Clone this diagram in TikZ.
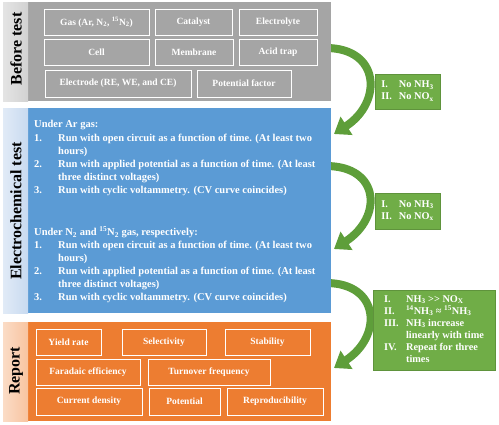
\documentclass[tikz,border=0pt]{standalone}
\usepackage{fontspec}
\setmainfont{Liberation Serif}
\usetikzlibrary{arrows.meta,calc,shadows}
\definecolor{pgray}{RGB}{165,165,165}
\definecolor{pgraylt}{RGB}{210,210,210}
\definecolor{pblue}{RGB}{91,155,213}
\definecolor{pbluelt}{RGB}{200,218,240}
\definecolor{porange}{RGB}{237,125,49}
\definecolor{porangelt}{RGB}{248,196,160}
\definecolor{bgreen}{RGB}{112,173,71}
\definecolor{agreen}{RGB}{94,158,58}
\begin{document}
\begin{tikzpicture}[x=1pt,y=-1pt,
  every node/.style={font=\bfseries\fontsize{9.5}{11}\selectfont},
  cell/.style={draw=white, line width=1pt, text=white, inner sep=0pt},
  sidelabel/.style={rotate=90, text=black, inner sep=0pt, font=\bfseries\fontsize{16}{18}\selectfont},
  bodytext/.style={anchor=west, text=white, inner sep=0pt, text height=7.2pt, text depth=2.2pt,
    font=\bfseries\fontsize{10.5}{12}\selectfont},
  resultbox/.style={fill=bgreen, draw=bgreen!85!black, line width=0.6pt, text=white, inner sep=0pt,
    font=\bfseries\fontsize{10.3}{12}\selectfont,
    drop shadow={opacity=0.3, shadow xshift=1.2pt, shadow yshift=-1.2pt}},
  bigarrow/.style={draw=agreen, line width=8pt, -{Triangle[width=21pt,length=15pt]}}]
\useasboundingbox (0,0) rectangle (499,424);
\fill[white] (0,0) rectangle (499,424);

% connectors (drawn first, panels cover their start)
\coordinate (a1s) at (326,48);  \coordinate (a1e) at (334,134);
\coordinate (a2s) at (326,166); \coordinate (a2e) at (334,249);
\coordinate (a3s) at (326,283); \coordinate (a3e) at (334,368);
\draw[bigarrow] (a1s) .. controls ($(a1s)+(54,0)$) and ($(a1e)+(49,-32)$) .. (a1e);
\draw[bigarrow] (a2s) .. controls ($(a2s)+(54,0)$) and ($(a2e)+(49,-32)$) .. (a2e);
\draw[bigarrow] (a3s) .. controls ($(a3s)+(54,0)$) and ($(a3e)+(49,-32)$) .. (a3e);

% ---------- Before test ----------
\fill[pgray] (28,2) rectangle (331,101);
\shade[left color=pgraylt!60!white, right color=pgraylt] (3,2) rectangle (28,101);
\node[sidelabel] (lblBefore) at (16,49) {Before test};
\node[cell, minimum width=105pt, minimum height=26pt] (gas) at (96.5,22) {Gas (Ar, N\textsubscript{2}, \textsuperscript{15}N\textsubscript{2})};
\node[cell, minimum width=77pt, minimum height=26pt] (catalyst) at (193.5,22) {Catalyst};
\node[cell, minimum width=78pt, minimum height=26pt] (electrolyte) at (278,22) {Electrolyte};
\node[cell, minimum width=105pt, minimum height=26pt] (cellbox) at (96.5,52.5) {Cell};
\node[cell, minimum width=78pt, minimum height=26pt] (membrane) at (194,52.5) {Membrane};
\node[cell, minimum width=78pt, minimum height=26pt] (acid) at (278,52.5) {Acid trap};
\node[cell, minimum width=146pt, minimum height=27pt] (electrode) at (118,83.5) {Electrode (RE, WE, and CE)};
\node[cell, minimum width=94pt, minimum height=27pt] (potfactor) at (244,83.5) {Potential factor};

% ---------- Electrochemical test ----------
\fill[pblue] (28,108) rectangle (331,313);
\shade[left color=pbluelt!55!white, right color=pbluelt] (3,108) rectangle (28,313);
\node[sidelabel] (lblElec) at (16,211) {Electrochemical test};
\node[bodytext] (ar0) at (34,125) {Under Ar gas:};
\node[bodytext] (ar1n) at (34,139) {1.};
\node[bodytext] (ar1) at (58,139) {Run with open circuit as a function of time. (At least two};
\node[bodytext] (ar1b) at (58,152) {hours)};
\node[bodytext] (ar2n) at (34,165) {2.};
\node[bodytext] (ar2) at (58,165) {Run with applied potential as a function of time. (At least};
\node[bodytext] (ar2b) at (58,178) {three distinct voltages)};
\node[bodytext] (ar3n) at (34,191) {3.};
\node[bodytext] (ar3) at (58,191) {Run with cyclic voltammetry. (CV curve coincides)};
\node[bodytext] (nn0) at (34,233) {Under N\textsubscript{2} and \textsuperscript{15}N\textsubscript{2} gas, respectively:};
\node[bodytext] (nn1n) at (34,246) {1.};
\node[bodytext] (nn1) at (58,246) {Run with open circuit as a function of time. (At least two};
\node[bodytext] (nn1b) at (58,259) {hours)};
\node[bodytext] (nn2n) at (34,272) {2.};
\node[bodytext] (nn2) at (58,272) {Run with applied potential as a function of time. (At least};
\node[bodytext] (nn2b) at (58,285) {three distinct voltages)};
\node[bodytext] (nn3n) at (34,298) {3.};
\node[bodytext] (nn3) at (58,298) {Run with cyclic voltammetry. (CV curve coincides)};

% ---------- Report ----------
\fill[porange] (28,322) rectangle (331,421);
\shade[left color=porangelt!60!white, right color=porangelt] (3,322) rectangle (28,421);
\node[sidelabel] (lblReport) at (16,371) {Report};
\node[cell, minimum width=65pt, minimum height=26pt] (yield) at (68.5,342) {Yield rate};
\node[cell, minimum width=84pt, minimum height=26pt] (select) at (164,342) {Selectivity};
\node[cell, minimum width=85pt, minimum height=26pt] (stab) at (267.5,342) {Stability};
\node[cell, minimum width=104pt, minimum height=26pt] (faradaic) at (88,372) {Faradaic efficiency};
\node[cell, minimum width=122pt, minimum height=26pt] (turnover) at (209,372) {Turnover frequency};
\node[cell, minimum width=106pt, minimum height=27pt] (current) at (89,401.5) {Current density};
\node[cell, minimum width=71pt, minimum height=27pt] (potential) at (184.5,401.5) {Potential};
\node[cell, minimum width=96pt, minimum height=27pt] (repro) at (275,401.5) {Reproducibility};

% ---------- results ----------
\node[resultbox, minimum width=65pt, minimum height=35pt] (res1) at (407.5,91.5)
  {\begin{tabular}{@{}l@{\hspace{7pt}}l@{}}I. & No NH\textsubscript{3}\\ II. & No NO\textsubscript{x}\end{tabular}};
\node[resultbox, minimum width=65pt, minimum height=36pt] (res2) at (407.5,211)
  {\begin{tabular}{@{}l@{\hspace{7pt}}l@{}}I. & No NH\textsubscript{3}\\ II. & No NO\textsubscript{x}\end{tabular}};
\node[resultbox, minimum width=122pt, minimum height=80pt] (res3) at (434,330)
  {\begin{tabular}{@{}p{18pt}@{\hspace{4pt}}l@{}}
   I. & NH\textsubscript{3} >{}> NO\textsubscript{X}\\
   II. & \textsuperscript{14}NH\textsubscript{3} ≈ \textsuperscript{15}NH\textsubscript{3}\\
   III. & NH\textsubscript{3} increase\\
        & linearly with time\\
   IV. & Repeat for three\\
       & times
  \end{tabular}};
\end{tikzpicture}
\end{document}
